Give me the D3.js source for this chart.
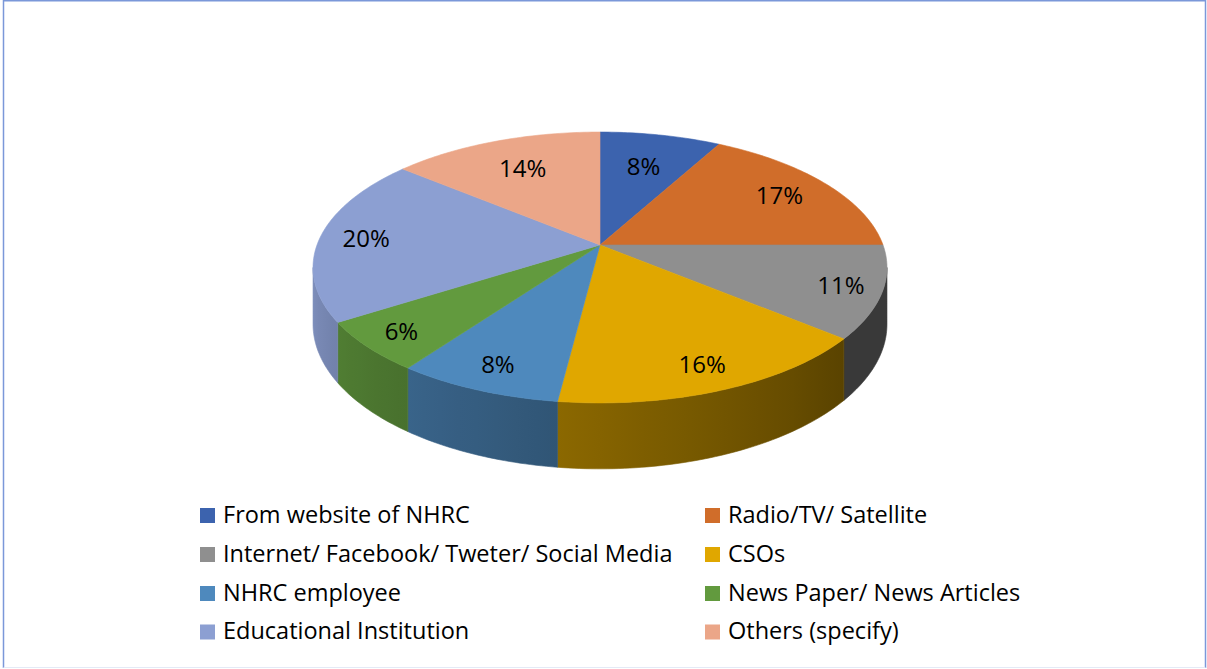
<!DOCTYPE html>
<html>
<head>
<meta charset="utf-8">
<script src="https://cdn.jsdelivr.net/npm/d3@7"></script>
<style>
  body { margin: 0; background: #ffffff; }
  svg { display: block; }
</style>
</head>
<body>
<svg id="chart" width="1207" height="669"></svg>
<script>
// Sources of information about the NHRC (share of respondents, %)
const categories = [
  "From website of NHRC",
  "Radio/TV/ Satellite",
  "Internet/ Facebook/ Tweter/ Social Media",
  "CSOs",
  "NHRC employee",
  "News Paper/ News Articles",
  "Educational Institution",
  "Others (specify)"
];
const values = [8, 17, 11, 16, 8, 6, 20, 14];
const labels = ["8%", "17%", "11%", "16%", "8%", "6%", "20%", "14%"];
const colors = ["#3C63AE", "#D06D2A", "#8F8F8F", "#E0A700", "#4E89BD", "#629A3E", "#8C9FD2", "#EBA688"];

const svg = d3.select("#chart");
const W = 1207, H = 669;
const FONT = "'Open Sans', Lato, sans-serif";

// Chart frame
svg.append("rect").attr("x", 0).attr("y", 0).attr("width", W).attr("height", H).attr("fill", "#fff");
svg.append("path")
  .attr("d", `M3.5,${H - 1} L3.5,0.75 L1205.5,0.75 L1205.5,${H - 1}`)
  .attr("fill", "none").attr("stroke", "#7B98D9").attr("stroke-width", 1.5);
svg.append("line").attr("x1", 3.5).attr("x2", 1205.5).attr("y1", 667.5).attr("y2", 667.5)
  .attr("stroke", "#E4EAF6").attr("stroke-width", 1);

// Perspective view of a tilted disc: angle measured clockwise from the back
const cx = 600, cy = 245, A = 283, B = 131.7, k = 0.166, depth = 55;
function proj(theta, r = 1, drop = 0) {
  const s = 1 / (1 + k * r * Math.cos(theta));
  return [cx + r * A * Math.sin(theta) * s, cy - r * B * Math.cos(theta) * s + drop * s];
}

const pie = d3.pie().sort(null).value(d => d).startAngle(0).endAngle(2 * Math.PI);
const arcs = pie(values);

const defs = svg.append("defs");
const line = d3.line();

function arcPoints(a0, a1, drop, n) {
  const pts = [];
  for (let i = 0; i <= n; i++) {
    const t = a0 + (a1 - a0) * i / n;
    pts.push(proj(t, 1, drop));
  }
  return pts;
}

// Side wall: only the part facing the viewer is visible
const visLo = Math.PI - Math.acos(k), visHi = Math.PI + Math.acos(k);
const shade = d3.scaleLinear()
  .domain([130 * Math.PI / 180, 260 * Math.PI / 180])
  .range([0.4, 0.9]).clamp(true);

const walls = svg.append("g");
arcs.forEach((a, i) => {
  const t0 = Math.max(a.startAngle, visLo), t1 = Math.min(a.endAngle, visHi);
  if (t1 <= t0) return;
  const n = Math.max(8, Math.ceil((t1 - t0) * 60));
  const top = arcPoints(t0, t1, 0, n);
  const bot = arcPoints(t0, t1, depth, n).reverse();
  const xL = proj(t1)[0], xR = proj(t0)[0];
  const gid = "wall" + i;
  const g = defs.append("linearGradient").attr("id", gid)
    .attr("gradientUnits", "userSpaceOnUse")
    .attr("x1", xL).attr("x2", xR).attr("y1", 0).attr("y2", 0);
  const base = d3.rgb(colors[i]);
  for (let j = 0; j <= 8; j++) {
    const t = t1 - (t1 - t0) * j / 8;
    const f = shade(t);
    const off = (proj(t)[0] - xL) / (xR - xL || 1);
    g.append("stop").attr("offset", Math.max(0, Math.min(1, off)))
      .attr("stop-color", d3.rgb(base.r * f, base.g * f, base.b * f).formatHex());
  }
  walls.append("path")
    .attr("d", line(top.concat(bot)) + "Z")
    .attr("fill", `url(#${gid})`)
    .attr("stroke", `url(#${gid})`).attr("stroke-width", 0.6);
});

// Top faces
const tops = svg.append("g");
arcs.forEach((a, i) => {
  const n = Math.max(8, Math.ceil((a.endAngle - a.startAngle) * 60));
  const pts = [[cx, cy]].concat(arcPoints(a.startAngle, a.endAngle, 0, n));
  tops.append("path")
    .attr("d", line(pts) + "Z")
    .attr("fill", colors[i])
    .attr("stroke", colors[i]).attr("stroke-width", 0.6);
});

// Percentage labels on the top face; side labels sit further out
function labelPos(d) {
  const m = (d.startAngle + d.endAngle) / 2;
  const r = 0.74 - 0.08 * Math.cos(m) + 0.1 * Math.abs(Math.sin(m));
  return proj(m, r);
}
svg.append("g").selectAll("text").data(arcs).join("text")
  .attr("x", d => labelPos(d)[0])
  .attr("y", d => labelPos(d)[1] + 8.5)
  .attr("text-anchor", "middle")
  .attr("font-family", FONT).attr("font-size", 24).attr("fill", "#000")
  .text((d, i) => labels[i]);

// Legend, two columns
const legX = [200, 705], legY = [515.5, 554.5, 593.5, 632];
const leg = svg.append("g").selectAll("g").data(categories).join("g")
  .attr("transform", (d, i) => `translate(${legX[i % 2]},${legY[Math.floor(i / 2)]})`);
leg.append("rect").attr("x", 0).attr("y", -7.5).attr("width", 15).attr("height", 15)
  .attr("fill", (d, i) => colors[i]);
leg.append("text").attr("x", 23).attr("y", 7.2)
  .attr("font-family", FONT).attr("font-size", 23.5).attr("fill", "#000")
  .text(d => d);
</script>
</body>
</html>
